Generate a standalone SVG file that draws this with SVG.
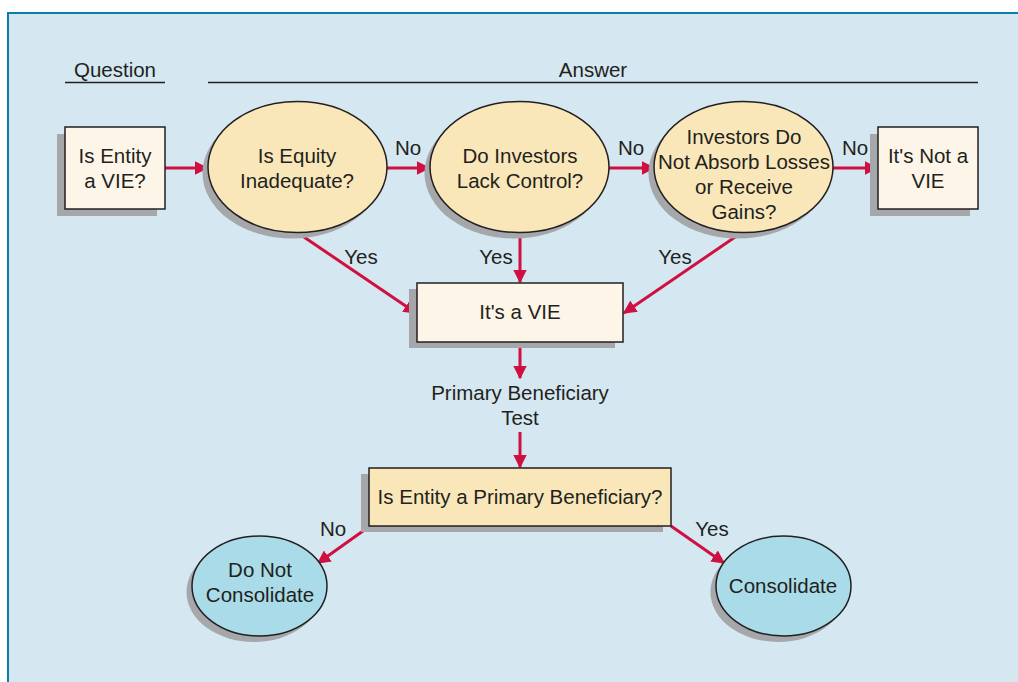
<svg xmlns="http://www.w3.org/2000/svg" width="1018" height="682" viewBox="0 0 1018 682">
<defs>
<style>
text{font-family:"Liberation Sans","Noto Sans",Arial,sans-serif;font-size:20.5px;fill:#231f20;text-anchor:middle}
.shadow{fill:#a5a7ab}
.box{fill:#fdf5e7;stroke:#231f20;stroke-width:1.5}
.dec{fill:#f9e7b9;stroke:#231f20;stroke-width:1.5}
.out{fill:#a9dbe8;stroke:#231f20;stroke-width:1.5}
.rule{stroke:#231f20;stroke-width:1.5}
.arr{stroke:#cf1142;stroke-width:3;fill:none;marker-end:url(#ah)}
</style>
<marker id="ah" viewBox="0 0 10 10" refX="9" refY="5" markerWidth="4.5" markerHeight="4.5" orient="auto" markerUnits="strokeWidth">
<path d="M0,0 L10,5 L0,10 Z" fill="#cf1142"/>
</marker>
</defs>
<rect x="0" y="0" width="1018" height="682" fill="#ffffff"/>
<rect x="8" y="13" width="1020" height="680" fill="#d5e7f1" stroke="#0b7da9" stroke-width="2"/>

<g id="headers">
<text x="115" y="77">Question</text>
<line class="rule" x1="65" y1="82.5" x2="165" y2="82.5"/>
<text x="593" y="77">Answer</text>
<line class="rule" x1="208" y1="82.5" x2="978" y2="82.5"/>
</g>

<g id="connectors">
<line class="arr" x1="165" y1="168" x2="207" y2="168"/>
<line class="arr" x1="387" y1="168" x2="429" y2="168"/>
<line class="arr" x1="609" y1="168" x2="654" y2="168"/>
<line class="arr" x1="833" y1="168" x2="877" y2="168"/>
<line class="arr" x1="298" y1="233" x2="416" y2="313"/>
<line class="arr" x1="520" y1="233" x2="520" y2="282"/>
<line class="arr" x1="741" y1="233" x2="624" y2="313"/>
<line class="arr" x1="520" y1="342" x2="520" y2="378"/>
<line class="arr" x1="520" y1="432" x2="520" y2="467"/>
<line class="arr" x1="370" y1="526" x2="318" y2="563"/>
<line class="arr" x1="671" y1="526" x2="724" y2="563"/>
<text x="408" y="155">No</text>
<text x="631" y="155">No</text>
<text x="855" y="155">No</text>
<text x="361" y="264">Yes</text>
<text x="496" y="264">Yes</text>
<text x="675" y="264">Yes</text>
<text x="333" y="536">No</text>
<text x="712" y="536">Yes</text>
<text x="520" y="400">Primary Beneficiary</text>
<text x="520" y="425">Test</text>
</g>

<g id="is-entity-vie">
<rect class="shadow" x="57" y="134" width="100" height="82"/>
<rect class="box" x="65" y="127" width="100" height="82"/>
<text x="115" y="163">Is Entity</text>
<text x="115" y="188">a VIE?</text>
</g>

<g id="equity-inadequate">
<ellipse class="shadow" cx="292" cy="173" rx="89.5" ry="65.5"/>
<ellipse class="dec" cx="297.5" cy="167" rx="89.5" ry="65.5"/>
<text x="297" y="163">Is Equity</text>
<text x="297" y="188">Inadequate?</text>
</g>

<g id="lack-control">
<ellipse class="shadow" cx="514" cy="173" rx="89.5" ry="65.5"/>
<ellipse class="dec" cx="519.5" cy="167" rx="89.5" ry="65.5"/>
<text x="520" y="163">Do Investors</text>
<text x="520" y="188">Lack Control?</text>
</g>

<g id="absorb-losses">
<ellipse class="shadow" cx="738" cy="173" rx="89.5" ry="65.5"/>
<ellipse class="dec" cx="743.5" cy="167" rx="89.5" ry="65.5"/>
<text x="744" y="144">Investors Do</text>
<text x="744" y="169">Not Absorb Losses</text>
<text x="744" y="194">or Receive</text>
<text x="744" y="219">Gains?</text>
</g>

<g id="not-vie">
<rect class="shadow" x="870" y="134" width="100" height="82"/>
<rect class="box" x="878" y="127" width="100" height="82"/>
<text x="928" y="163">It's Not a</text>
<text x="928" y="188">VIE</text>
</g>

<g id="is-vie">
<rect class="shadow" x="409" y="289" width="206" height="59"/>
<rect class="box" x="417" y="283" width="206" height="59"/>
<text x="520" y="319">It's a VIE</text>
</g>

<g id="primary-beneficiary">
<rect class="shadow" x="361" y="474" width="302" height="58"/>
<rect class="dec" x="369" y="468" width="302" height="58"/>
<text x="520" y="504">Is Entity a Primary Beneficiary?</text>
</g>

<g id="do-not-consolidate">
<ellipse class="shadow" cx="254" cy="592" rx="67.5" ry="50"/>
<ellipse class="out" cx="259.5" cy="586" rx="67.5" ry="50"/>
<text x="260" y="577">Do Not</text>
<text x="260" y="602">Consolidate</text>
</g>

<g id="consolidate">
<ellipse class="shadow" cx="778" cy="592" rx="67.5" ry="50"/>
<ellipse class="out" cx="783.5" cy="586" rx="67.5" ry="50"/>
<text x="783" y="593">Consolidate</text>
</g>
</svg>
